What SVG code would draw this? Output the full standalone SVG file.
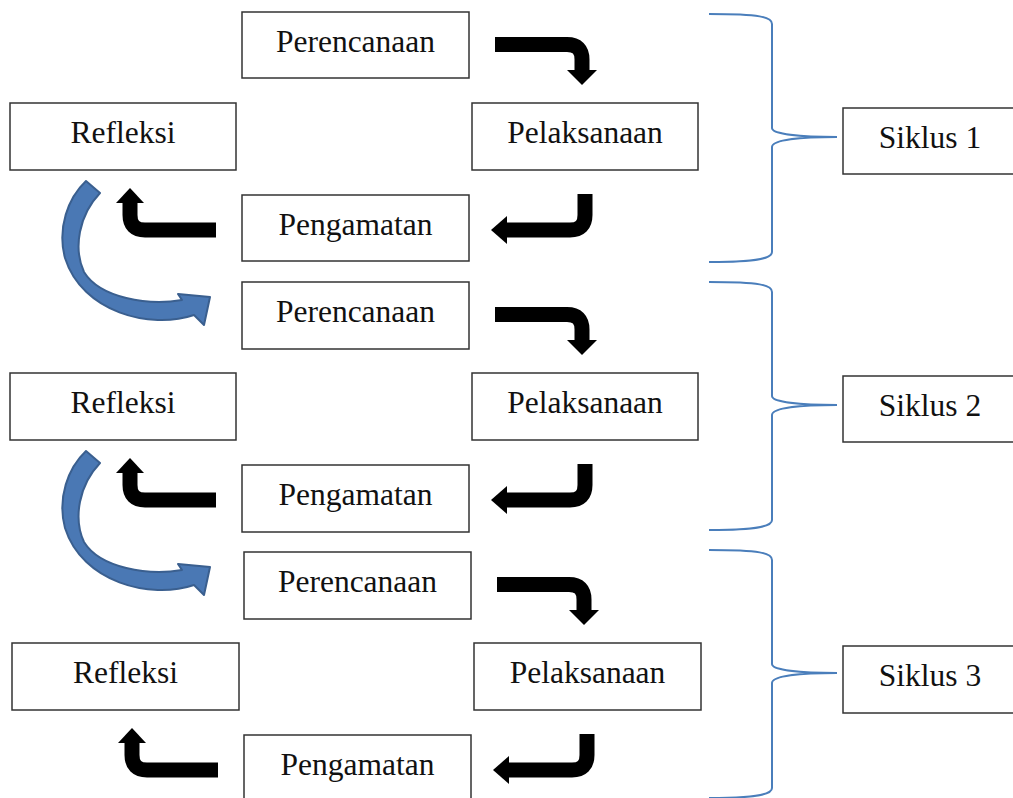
<svg xmlns="http://www.w3.org/2000/svg" xmlns:xlink="http://www.w3.org/1999/xlink" width="1013" height="798" viewBox="0 0 1013 798">
<style>
.box{fill:#fff;stroke:#333;stroke-width:1.5}
.lbl{font-family:"Liberation Serif","Times New Roman",serif;font-size:31.5px;fill:#111;text-anchor:middle}
.bar{fill:none;stroke:#000;stroke-width:15;stroke-linejoin:round}
.brace{fill:none;stroke:#4a7ebb;stroke-width:2}
.curv{fill:#4a78b4;stroke:#3a5f8f;stroke-width:2;stroke-linejoin:round}
</style>
<defs>
<g id="arrA"><path class="bar" d="M495 44.5H567Q582 44.5 582 59.5V71"/><path d="M567 70L597 70L582 85Z"/></g>
<g id="arrB"><path class="bar" d="M585 194V215Q585 230 570 230H506"/><path d="M507 216L507 244L491 230Z"/></g>
<g id="arrC"><path class="bar" d="M216 230H145Q130 230 130 215V202"/><path d="M116 203L144 203L130 188Z"/></g>
<path id="curved" class="curv" d="M86 181L100 193C79 215 73 248 84 272C100 298 148 306 182 300L178 294L210 297L204 325L194 315C150 330 82 312 65 258C57 228 68 198 86 181Z"/>
<path id="brc" class="brace" d="M709 14C760 14 772 17 772 24V128C772 134 800 137 837 137C800 137 772 140 772 147V252C772 258 760 262 709 262"/>
</defs>
<g id="connectors">
<use xlink:href="#arrA"/><use xlink:href="#arrB"/><use xlink:href="#arrC"/>
<use xlink:href="#arrA" transform="translate(0,270)"/><use xlink:href="#arrB" transform="translate(0,270)"/><use xlink:href="#arrC" transform="translate(0,270)"/>
<use xlink:href="#arrA" transform="translate(2,540)"/><use xlink:href="#arrB" transform="translate(2,540)"/><use xlink:href="#arrC" transform="translate(2,540)"/>
<use xlink:href="#curved"/><use xlink:href="#curved" transform="translate(0,270)"/>
<use xlink:href="#brc"/><use xlink:href="#brc" transform="translate(0,268)"/><use xlink:href="#brc" transform="translate(0,536)"/>
</g>
<g id="perencanaan1"><rect class="box" x="242" y="12" width="227" height="66"/><text class="lbl" x="355.5" y="52">Perencanaan</text></g>
<g id="pelaksanaan1"><rect class="box" x="472" y="103" width="226" height="67"/><text class="lbl" x="585" y="143">Pelaksanaan</text></g>
<g id="refleksi1"><rect class="box" x="10" y="103" width="226" height="67"/><text class="lbl" x="123" y="143">Refleksi</text></g>
<g id="pengamatan1"><rect class="box" x="242" y="195" width="227" height="66"/><text class="lbl" x="355.5" y="235">Pengamatan</text></g>
<g id="siklus1"><rect class="box" x="843" y="108" width="174" height="66"/><text class="lbl" x="930" y="148">Siklus 1</text></g>
<g id="perencanaan2"><rect class="box" x="242" y="282" width="227" height="67"/><text class="lbl" x="355.5" y="322">Perencanaan</text></g>
<g id="pelaksanaan2"><rect class="box" x="472" y="373" width="226" height="67"/><text class="lbl" x="585" y="413">Pelaksanaan</text></g>
<g id="refleksi2"><rect class="box" x="10" y="373" width="226" height="67"/><text class="lbl" x="123" y="413">Refleksi</text></g>
<g id="pengamatan2"><rect class="box" x="242" y="465" width="227" height="67"/><text class="lbl" x="355.5" y="505">Pengamatan</text></g>
<g id="siklus2"><rect class="box" x="843" y="376" width="174" height="66"/><text class="lbl" x="930" y="416">Siklus 2</text></g>
<g id="perencanaan3"><rect class="box" x="244" y="552" width="227" height="67"/><text class="lbl" x="357.5" y="592">Perencanaan</text></g>
<g id="pelaksanaan3"><rect class="box" x="474" y="643" width="227" height="67"/><text class="lbl" x="587.5" y="683">Pelaksanaan</text></g>
<g id="refleksi3"><rect class="box" x="12" y="643" width="227" height="67"/><text class="lbl" x="125.5" y="683">Refleksi</text></g>
<g id="pengamatan3"><rect class="box" x="244" y="735" width="227" height="67"/><text class="lbl" x="357.5" y="775">Pengamatan</text></g>
<g id="siklus3"><rect class="box" x="843" y="646" width="174" height="67"/><text class="lbl" x="930" y="686">Siklus 3</text></g>
</svg>
